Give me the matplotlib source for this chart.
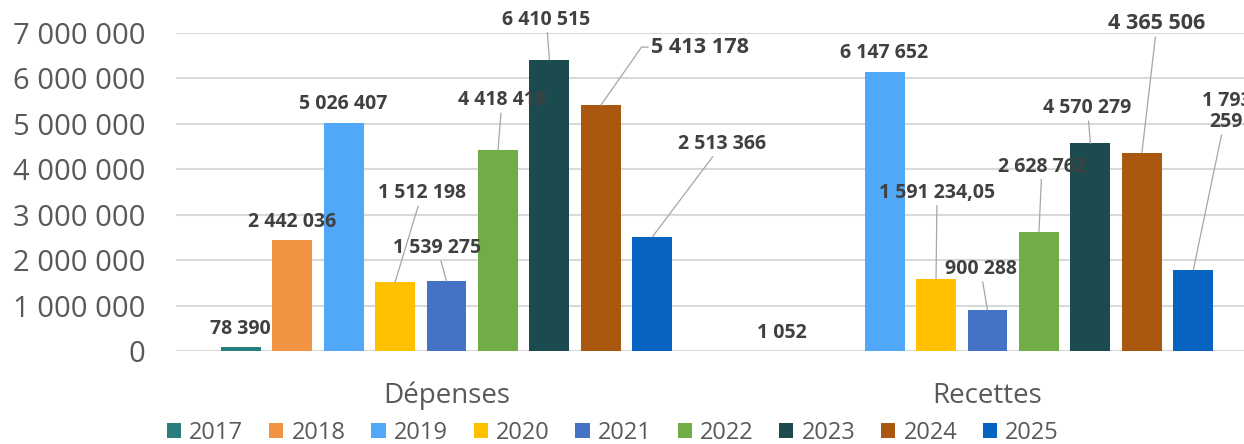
import numpy as np
import matplotlib.pyplot as plt
from matplotlib.patches import Patch
from matplotlib.ticker import FuncFormatter

categories = ["Dépenses", "Recettes"]
years = ["2017", "2018", "2019", "2020", "2021", "2022", "2023", "2024", "2025"]
depenses = [78390, 2442036, 5026407, 1512198, 1539275, 4418418, 6410515, 5413178, 2513366]
recettes = [1052, np.nan, 6147652, 1591234.05, 900288, 2628762, 4570279, 4365506, 1793259]
colors = ["#2A7F7E", "#F19341", "#52A8F8", "#FFC000", "#4472C4",
          "#70AD47", "#1B4B4F", "#AA5810", "#0664C0"]

# label placement (pixels from bar top: dx, dy, leader kind)
label_layout = {
    0: [(0, -18, None), (0, -18, None), (0, -19, None), (27, -89, "line"),
        (-9, -33, "line"), (4, -50, "line"), (-3, -40, "line"),
        (99, -58, "elbow"), (70, -93, "line")],
    1: [(0, -18, None), None, (0, -19, None), (1, -86, "line"),
        (-7, -41, "line"), (3, -65, "line"), (-3, -35, "line"),
        (15, -129, "line"), (33, -158, "line")],
}
big_labels = {(0, 7), (1, 7)}
wrapped = {(1, 8)}


def fr(v):
    if float(v).is_integer():
        return f"{int(v):,}".replace(",", " ")
    s = f"{v:,.2f}"
    return s.replace(",", " ").replace(".", ",")


plt.rcParams['font.family'] = ['Open Sans', 'DejaVu Sans']

fig = plt.figure(figsize=(12.44, 4.44), dpi=100)
ax = fig.add_axes([176 / 1244, 1 - 351 / 444, 1082 / 1244, 318 / 444])

n = len(years)
step = 1 / (n + 1.51)
width = step * 0.777
x = np.arange(len(categories))
series = [depenses, recettes]

for j, yr in enumerate(years):
    vals = [series[0][j], series[1][j]]
    pos = x + (j - (n - 1) / 2) * step
    ax.bar(pos, vals, width, color=colors[j], label=yr, zorder=3)
    for g in range(2):
        v = vals[g]
        lay = label_layout[g][j]
        if lay is None or np.isnan(v):
            continue
        dx, dy, kind = lay
        txt = fr(v)
        if (g, j) in wrapped:
            head, tail = txt.rsplit(" ", 1)
            txt = head + "\n" + tail
        size = 15.6 if (g, j) in big_labels else 14
        kw = dict(ha="center", va="center", fontsize=size, fontweight="bold",
                  color="#404040", annotation_clip=False, linespacing=1.1,
                  zorder=6)
        if kind == "line":
            kw["arrowprops"] = dict(arrowstyle="-", color="#A6A6A6", lw=0.9,
                                    shrinkA=0, shrinkB=0)
        elif kind == "elbow":
            kw["arrowprops"] = dict(arrowstyle="-", color="#A6A6A6", lw=0.9,
                                    shrinkA=0, shrinkB=0, relpos=(0, 0.5),
                                    connectionstyle="angle,angleA=0,angleB=55,rad=0")
        ax.annotate(txt, xy=(pos[g], v), xytext=(dx * 0.72, -dy * 0.72),
                    textcoords="offset points", **kw)

ax.set_xlim(-0.5, 1.5)
ax.set_ylim(0, 7000000)
ax.set_yticks(np.arange(0, 7000001, 1000000))
ax.yaxis.set_major_formatter(FuncFormatter(lambda v, p: fr(v)))
ax.set_xticks(x)
ax.set_xticklabels(categories)
ax.tick_params(axis="y", length=0, pad=22, labelsize=21, labelcolor="#595959")
ax.tick_params(axis="x", length=0, pad=22, labelsize=20, labelcolor="#595959")
ax.grid(axis="y", color="#D9D9D9", lw=1.5, zorder=0)
for s in ax.spines.values():
    s.set_visible(False)
ax.axhline(0, color="#D9D9D9", lw=1.5, zorder=1)

handles = [Patch(facecolor=c, label=y) for c, y in zip(colors, years)]
fig.legend(handles=handles, loc="center", bbox_to_anchor=(613 / 1244, 1 - 433 / 444),
           ncol=9, frameon=False, fontsize=17, handlelength=0.6, handleheight=0.6,
           handletextpad=0.34, columnspacing=1.1, labelcolor="#595959",
           borderpad=0, borderaxespad=0)

fig.savefig("out.png", dpi=100)
